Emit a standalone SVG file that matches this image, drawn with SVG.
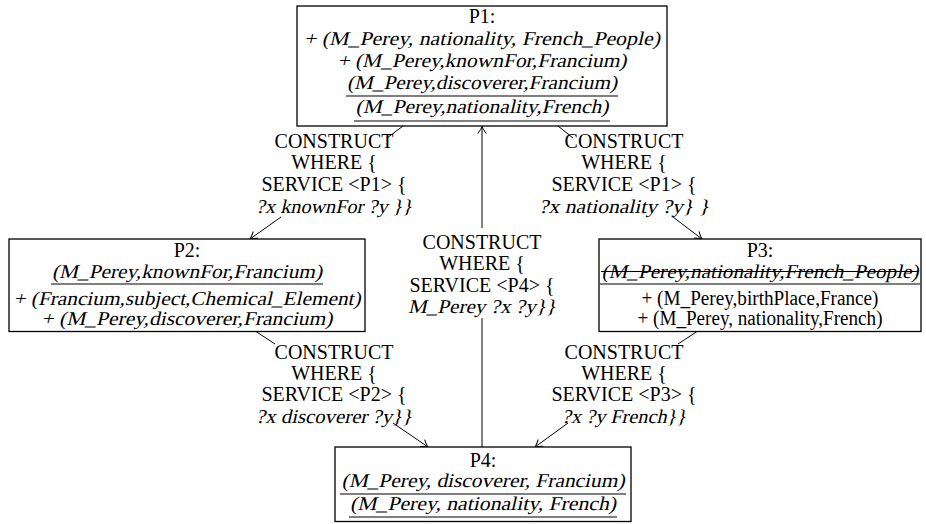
<svg xmlns="http://www.w3.org/2000/svg" width="926" height="524" viewBox="0 0 926 524">
<style>
text{font-family:"Liberation Serif","Times New Roman",serif;font-size:20px;fill:#000;text-anchor:middle}
.it{font-size:19.5px}
.box{fill:#fff;stroke:#000;stroke-width:1.3}
.bar{stroke:#000;stroke-width:1.2}
.edge{stroke:#000;stroke-width:1;fill:none}
</style>
<defs>
<marker id="ah" markerUnits="userSpaceOnUse" markerWidth="12" markerHeight="12" refX="0" refY="0" viewBox="-8 -6 10 12" orient="auto">
<path d="M-7,-4.2 Q-2.5,-0.8 0,0 Q-2.5,0.8 -7,4.2" fill="none" stroke="#000" stroke-width="1"/>
</marker>
</defs>
<rect width="926" height="524" fill="#fff"/>
<g id="connectors">
<line class="edge" x1="403" y1="126" x2="387" y2="138"/>
<line class="edge" x1="281" y1="217" x2="250" y2="239" marker-end="url(#ah)"/>
<line class="edge" x1="558" y1="126" x2="573" y2="138"/>
<line class="edge" x1="673" y1="217" x2="702" y2="239" marker-end="url(#ah)"/>
<line class="edge" x1="256" y1="331.5" x2="275" y2="344"/>
<line class="edge" x1="393" y1="423" x2="428" y2="447" marker-end="url(#ah)"/>
<line class="edge" x1="697" y1="331.5" x2="678" y2="344"/>
<line class="edge" x1="568" y1="423" x2="535" y2="447" marker-end="url(#ah)"/>
<line class="edge" x1="482" y1="447" x2="482" y2="318"/>
<line class="edge" x1="482" y1="228" x2="482" y2="126.5" marker-end="url(#ah)"/>
</g>
<g id="label-p1-p2">
<text x="334" y="148">CONSTRUCT</text>
<text x="334" y="169">WHERE {</text>
<text x="334" y="191">SERVICE &lt;P1&gt; {</text>
<text class="it" transform="translate(334,213) skewX(-13)" textLength="156" lengthAdjust="spacingAndGlyphs">?x knownFor ?y }}</text>
</g>
<g id="label-p1-p3">
<text x="624" y="148">CONSTRUCT</text>
<text x="624" y="169">WHERE {</text>
<text x="624" y="191">SERVICE &lt;P1&gt; {</text>
<text class="it" transform="translate(624,213) skewX(-13)" textLength="170" lengthAdjust="spacingAndGlyphs">?x nationality ?y} }</text>
</g>
<g id="label-p4-p1">
<text x="482" y="249">CONSTRUCT</text>
<text x="482" y="270">WHERE {</text>
<text x="482" y="292">SERVICE &lt;P4&gt; {</text>
<text class="it" transform="translate(482,313) skewX(-13)" textLength="148" lengthAdjust="spacingAndGlyphs">M_Perey ?x ?y}}</text>
</g>
<g id="label-p2-p4">
<text x="334" y="359">CONSTRUCT</text>
<text x="334" y="380">WHERE {</text>
<text x="334" y="401">SERVICE &lt;P2&gt; {</text>
<text class="it" transform="translate(334,423) skewX(-13)" textLength="156" lengthAdjust="spacingAndGlyphs">?x discoverer ?y}}</text>
</g>
<g id="label-p3-p4">
<text x="624" y="359">CONSTRUCT</text>
<text x="624" y="380">WHERE {</text>
<text x="624" y="401">SERVICE &lt;P3&gt; {</text>
<text class="it" transform="translate(624,423) skewX(-13)" textLength="124" lengthAdjust="spacingAndGlyphs">?x ?y French}}</text>
</g>
<g id="P1">
<rect class="box" x="297" y="6" width="370" height="120"/>
<text x="482" y="23">P1:</text>
<text class="it" transform="translate(482,45) skewX(-13)" textLength="356" lengthAdjust="spacingAndGlyphs">+ (M_Perey, nationality, French_People)</text>
<text class="it" transform="translate(482,67) skewX(-13)" textLength="289" lengthAdjust="spacingAndGlyphs">+ (M_Perey,knownFor,Francium)</text>
<text class="it" transform="translate(482,89) skewX(-13)" textLength="270" lengthAdjust="spacingAndGlyphs">(M_Perey,discoverer,Francium)</text>
<line class="bar" x1="346" y1="96" x2="618" y2="96"/>
<text class="it" transform="translate(482,113) skewX(-13)" textLength="253" lengthAdjust="spacingAndGlyphs">(M_Perey,nationality,French)</text>
<line class="bar" x1="354" y1="121" x2="610" y2="121"/>
</g>
<g id="P2">
<rect class="box" x="9" y="239" width="356" height="92.5"/>
<text x="187" y="257">P2:</text>
<text class="it" transform="translate(187,277.5) skewX(-13)" textLength="270" lengthAdjust="spacingAndGlyphs">(M_Perey,knownFor,Francium)</text>
<line class="bar" x1="51" y1="284" x2="323" y2="284"/>
<text class="it" transform="translate(187,305) skewX(-13)" textLength="347" lengthAdjust="spacingAndGlyphs">+ (Francium,subject,Chemical_Element)</text>
<text class="it" transform="translate(187,325) skewX(-13)" textLength="291" lengthAdjust="spacingAndGlyphs">+ (M_Perey,discoverer,Francium)</text>
</g>
<g id="P3">
<rect class="box" x="599" y="239" width="322" height="92.5"/>
<text x="760" y="257">P3:</text>
<text class="it" transform="translate(760,277.5) skewX(-13)" textLength="317" lengthAdjust="spacingAndGlyphs">(M_Perey,nationality,French_People)</text>
<line class="bar" x1="601" y1="271.5" x2="919" y2="271.5"/>
<line class="bar" x1="600" y1="284" x2="920" y2="284"/>
<text x="760" y="305" textLength="237" lengthAdjust="spacingAndGlyphs">+ (M_Perey,birthPlace,France)</text>
<text x="760" y="325" textLength="245" lengthAdjust="spacingAndGlyphs">+ (M_Perey, nationality,French)</text>
</g>
<g id="P4">
<rect class="box" x="335" y="447" width="296" height="74.5"/>
<text x="483" y="467">P4:</text>
<text class="it" transform="translate(483,487) skewX(-13)" textLength="283" lengthAdjust="spacingAndGlyphs">(M_Perey, discoverer, Francium)</text>
<line class="bar" x1="340" y1="494" x2="626" y2="494"/>
<text class="it" transform="translate(483,510) skewX(-13)" textLength="266" lengthAdjust="spacingAndGlyphs">(M_Perey, nationality, French)</text>
<line class="bar" x1="349" y1="517" x2="617" y2="517"/>
</g>
</svg>
